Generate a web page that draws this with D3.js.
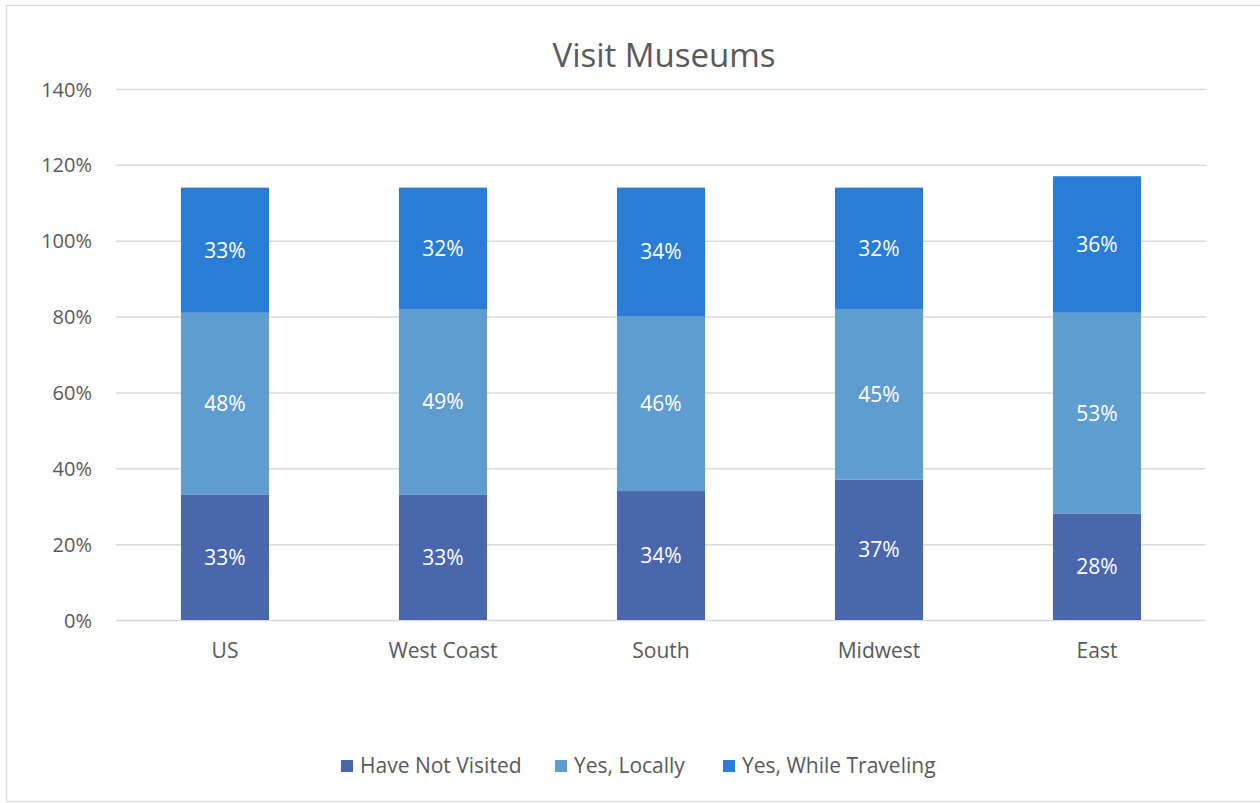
<!DOCTYPE html>
<html>
<head>
<meta charset="utf-8">
<script src="https://cdn.jsdelivr.net/npm/d3@7"></script>
<style>
  html, body { margin: 0; padding: 0; background: #fff; }
  svg { display: block; }
  text { font-family: "Open Sans", "Noto Sans", sans-serif; }
</style>
</head>
<body>
<svg id="chart" width="1260" height="803"></svg>
<script>
// Survey: share of respondents by museum-visiting behaviour, per region
const categories = ["US", "West Coast", "South", "Midwest", "East"];
const seriesNames = ["Have Not Visited", "Yes, Locally", "Yes, While Traveling"];
const haveNotVisited = [0.33, 0.33, 0.34, 0.37, 0.28];
const yesLocally = [0.48, 0.49, 0.46, 0.45, 0.53];
const yesWhileTraveling = [0.33, 0.32, 0.34, 0.32, 0.36];
const yTicks = [0, 0.2, 0.4, 0.6, 0.8, 1.0, 1.2, 1.4];
const colors = ["#4a66ac", "#5f9cd0", "#2a7dd6"];

const svg = d3.select("#chart");
const plot = { left: 116, right: 1206, top: 89, bottom: 620 };

// chart frame
svg.append("rect")
  .attr("x", 6.5).attr("y", 5.5)
  .attr("width", 1400).attr("height", 796)
  .attr("fill", "#fff").attr("stroke", "#d9d9d9").attr("stroke-width", 1.2);

const rows = categories.map((c, i) => ({
  category: c,
  "Have Not Visited": haveNotVisited[i],
  "Yes, Locally": yesLocally[i],
  "Yes, While Traveling": yesWhileTraveling[i]
}));
const stacked = d3.stack().keys(seriesNames)(rows);

const x = d3.scaleBand()
  .domain(categories)
  .range([plot.left, plot.right])
  .paddingInner(0.596)
  .paddingOuter(0.298);
const y = d3.scaleLinear().domain([0, 1.4]).range([plot.bottom, plot.top]);

// value axis with gridlines
const yAxis = d3.axisLeft(y)
  .tickValues(yTicks)
  .tickFormat(d3.format(".0%"))
  .tickSize(-(plot.right - plot.left))
  .tickPadding(24);
const gy = svg.append("g")
  .attr("transform", `translate(${plot.left},0)`)
  .call(yAxis);
gy.select(".domain").remove();
gy.selectAll(".tick line").attr("stroke", "#d9d9d9").attr("stroke-width", 1.5);
gy.selectAll(".tick text")
  .attr("fill", "#595959")
  .style("font-size", "20px")
  .attr("dy", "0.35em");

// category axis
const xAxis = d3.axisBottom(x).tickSize(0).tickPadding(23);
const gx = svg.append("g")
  .attr("transform", `translate(0,${plot.bottom})`)
  .call(xAxis);
gx.select(".domain").remove();
gx.selectAll(".tick text")
  .attr("fill", "#595959")
  .style("font-size", "21px");

// stacked bars
const layers = svg.append("g").selectAll("g")
  .data(stacked)
  .join("g")
  .attr("fill", (d, i) => colors[i]);

layers.selectAll("rect")
  .data(d => d.map(p => ({ p, key: d.key })))
  .join("rect")
  .attr("x", d => x(d.p.data.category))
  .attr("y", d => y(d.p[1]))
  .attr("width", x.bandwidth())
  .attr("height", d => y(d.p[0]) - y(d.p[1]));

// value labels centred in each segment
layers.selectAll("text")
  .data(d => d.map(p => ({ p, key: d.key })))
  .join("text")
  .attr("x", d => x(d.p.data.category) + x.bandwidth() / 2)
  .attr("y", d => (y(d.p[0]) + y(d.p[1])) / 2)
  .attr("dy", "0.35em")
  .attr("text-anchor", "middle")
  .attr("fill", "#ffffff")
  .style("font-size", "21px")
  .text(d => d3.format(".0%")(d.p[1] - d.p[0]));

// title
svg.append("text")
  .attr("x", 664)
  .attr("y", 67)
  .attr("text-anchor", "middle")
  .attr("fill", "#595959")
  .style("font-size", "33px")
  .text("Visit Museums");

// legend
const legendX = [341, 555, 723];
const legend = svg.append("g");
seriesNames.forEach((name, i) => {
  legend.append("rect")
    .attr("x", legendX[i]).attr("y", 760)
    .attr("width", 12).attr("height", 12)
    .attr("fill", colors[i]);
  legend.append("text")
    .attr("x", legendX[i] + 19).attr("y", 773)
    .attr("fill", "#595959")
    .style("font-size", "21px")
    .text(name);
});
</script>
</body>
</html>
